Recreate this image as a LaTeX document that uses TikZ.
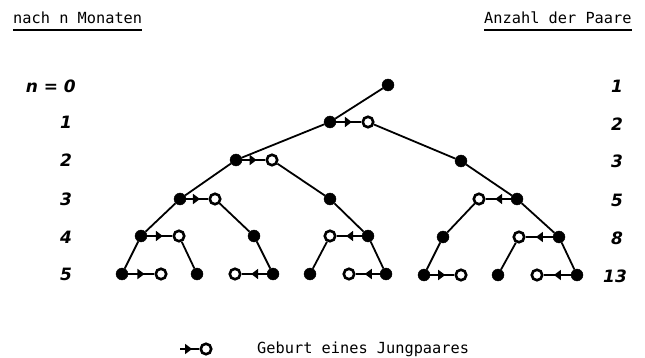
\documentclass[tikz,border=0pt]{standalone}
\usepackage{fontspec}
\newfontfamily\monofnt{DejaVu Sans Mono}
\newfontfamily\handfnt{DejaVu Sans}
\usetikzlibrary{decorations.markings,arrows.meta}
\tikzset{
  full/.style={circle,fill=black,draw=black,inner sep=0pt,minimum size=12pt},
  hollow/.style={circle,fill=white,draw=black,line width=2.6pt,inner sep=0pt,minimum size=10.5pt},
  edge/.style={line width=1.8pt},
  birth/.style={line width=1.8pt,postaction={decorate},
    decoration={markings,mark=at position 0.62 with {\arrow{Triangle[length=7pt,width=10pt]}}}},
  head/.style={font=\monofnt\fontsize{15.3}{15}\selectfont,inner sep=0pt,anchor=west},
  num/.style={font=\handfnt\bfseries\itshape\fontsize{17}{17}\selectfont,inner sep=0pt},
  legend/.style={font=\monofnt\fontsize{15.3}{15}\selectfont,inner sep=0pt,anchor=west}
}
\begin{document}
\begin{tikzpicture}[x=1pt,y=-1pt]
\useasboundingbox (0,0) rectangle (645,358);
% headings
\node[head] (h1) at (13,18) {nach n Monaten};
\node[head] (h2) at (484,18) {Anzahl der Paare};
\draw[line width=2pt] (h1.south west) ++(0,6) coordinate (u1a) -- (u1a -| h1.east);
\draw[line width=2pt] (h2.south west) ++(0,6) coordinate (u2a) -- (u2a -| h2.east);
% left labels
\node[num,anchor=east] (n0) at (76,86) {n = 0};
\node[num] (n1) at (66,122) {1};
\node[num] (n2) at (66,160) {2};
\node[num] (n3) at (66,199) {3};
\node[num] (n4) at (66,237) {4};
\node[num] (n5) at (66,274) {5};
% right labels
\node[num] (m0) at (617,86) {1};
\node[num] (m1) at (617,124) {2};
\node[num] (m2) at (617,161) {3};
\node[num] (m3) at (617,200) {5};
\node[num] (m4) at (617,238) {8};
\node[num] (m5) at (615,276) {13};
% tree nodes
\node[full] (A) at (388,85) {};
\node[full] (B) at (330,122) {};
\node[hollow] (Bo) at (368,122) {};
\node[full] (C) at (236,160) {};
\node[hollow] (Co) at (272,160) {};
\node[full] (D) at (461,161) {};
\node[full] (E) at (180,199) {};
\node[hollow] (Eo) at (215,199) {};
\node[full] (G) at (330,199) {};
\node[full] (H) at (517,199) {};
\node[hollow] (Ho) at (479,199) {};
\node[full] (I) at (141,236) {};
\node[hollow] (Io) at (179,236) {};
\node[full] (J) at (254,236) {};
\node[full] (K) at (368,236) {};
\node[hollow] (Ko) at (330,236) {};
\node[full] (L) at (443,237) {};
\node[full] (M) at (559,237) {};
\node[hollow] (Mo) at (519,237) {};
\node[full] (N) at (122,274) {};
\node[hollow] (No) at (161,274) {};
\node[full] (P) at (197,274) {};
\node[full] (Q) at (273,274) {};
\node[hollow] (Qo) at (235,274) {};
\node[full] (R) at (310,274) {};
\node[full] (S) at (386,274) {};
\node[hollow] (So) at (349,274) {};
\node[full] (T) at (424,275) {};
\node[hollow] (To) at (461,275) {};
\node[full] (U) at (498,275) {};
\node[full] (V) at (577,275) {};
\node[hollow] (Vo) at (537,275) {};
% tree edges
\foreach \a/\b in {A/B,B/C,Bo/D,C/E,Co/G,D/H,E/I,Eo/J,G/K,Ho/L,H/M,I/N,Io/P,J/Q,Ko/R,K/S,L/T,Mo/U,M/V}
  \draw[edge] (\a) -- (\b);
% births
\foreach \a/\b in {B/Bo,C/Co,E/Eo,H/Ho,I/Io,K/Ko,M/Mo,N/No,Q/Qo,S/So,T/To,V/Vo}
  \draw[birth] (\a) -- (\b);
% legend
\coordinate (lg) at (180,349);
\node[hollow] (lgo) at (206,349) {};
\draw[birth] (lg) -- (lgo);
\node[legend] (lt) at (257,349) {Geburt eines Jungpaares};
\end{tikzpicture}
\end{document}
